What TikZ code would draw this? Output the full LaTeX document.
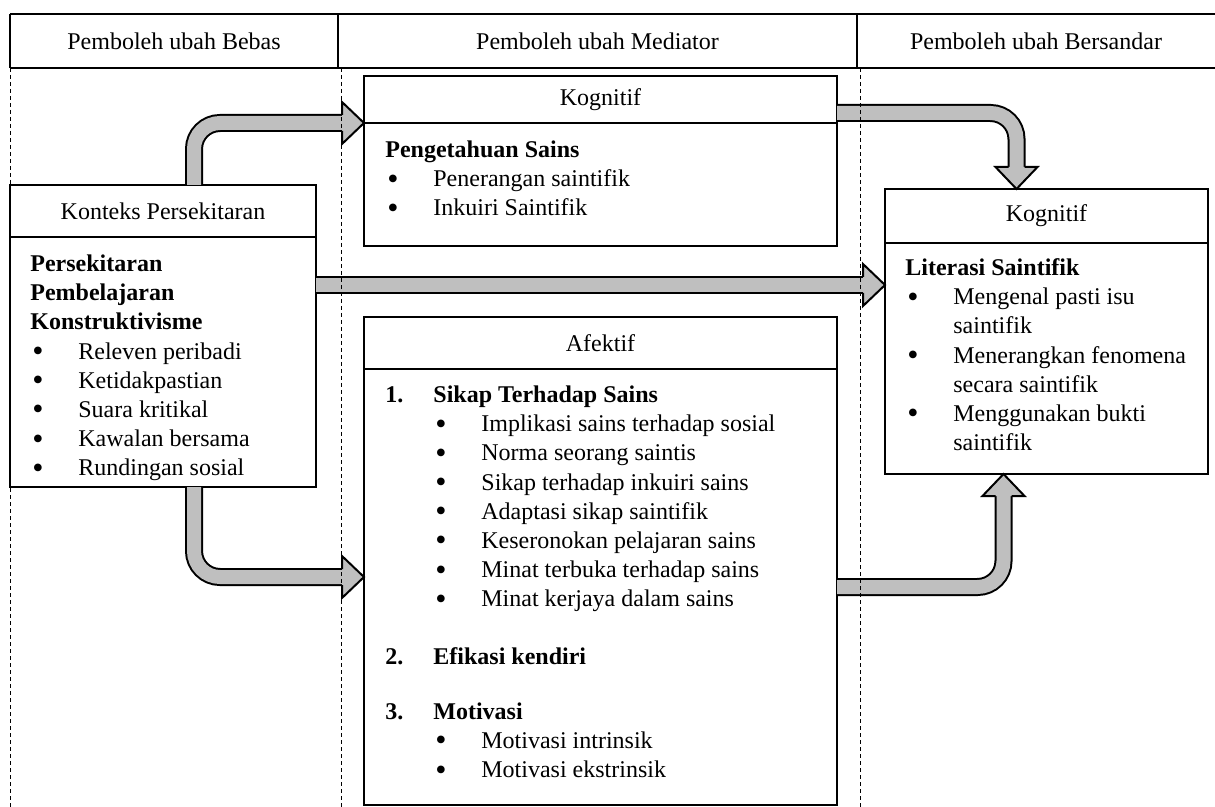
\documentclass[tikz,border=0pt]{standalone}
\usepackage{fontspec}
\setmainfont{Liberation Serif}
\usetikzlibrary{
	positioning,
	calc
}
\newcommand{\upx}{0.5pt}
\newcommand{\butir}{\makebox[24pt][l]{\hspace*{1pt}\raisebox{-1.2pt}{\fontsize{16}{16}\selectfont\textbullet}}}
\newcommand{\nomor}[1]{\makebox[24pt][l]{\textbf{#1}}}

\begin{document}
\begin{tikzpicture}[
	x=0.5pt, y=-0.5pt,
	font=\fontsize{12}{14.6}\selectfont,
	kolom/.style={
		inner sep=0pt,
		outer sep=0pt,
		minimum height=54*\upx
	},
	judul/.style={draw, line width=0.8pt, inner sep=0pt, outer sep=0pt, minimum height=52*\upx},
	badan/.style={draw, line width=0.8pt, inner sep=0pt, outer sep=0pt},
	isi/.style={anchor=north west, align=left, inner sep=0pt},
	bingkai/.style={line width=1.1pt},
	putus/.style={dash pattern=on 2pt off 1.5pt, line width=0.5pt},
	batang/.style={line width=1pt, draw=black, double=black!25, double distance=7pt, rounded corners=13pt},
	kepalapanah/.style={fill=black!25, draw=black, line width=1pt},
	kepala/.pic={\filldraw[kepalapanah] (-22,-8) -- (-22,-21) -- (0,0) -- (-22,21) -- (-22,8);}
]
\useasboundingbox (0,0) rectangle (1215,807);

% Kepala lajur
\node[kolom, minimum width=328*\upx] (hbebas) at (174,41) {Pemboleh ubah Bebas};
\node[kolom, minimum width=519*\upx, right=0pt of hbebas] (hmediator) {Pemboleh ubah Mediator};
\node[kolom, minimum width=358*\upx, right=0pt of hmediator] (hbersandar) {Pemboleh ubah Bersandar};

\draw[bingkai] (hbebas.north west) -- (hbersandar.north east);
\draw[bingkai] (hbebas.south west) -- (hbersandar.south east);
\draw[line width=0.8pt] (hbebas.north west) -- (hbebas.south west)
	(hbebas.north east) -- (hbebas.south east)
	(hmediator.north east) -- (hmediator.south east);

% Pemboleh ubah bebas
\node[judul, minimum width=306*\upx] (konteks) at (163,211) {Konteks Persekitaran};
\node[badan, minimum width=306*\upx, minimum height=250*\upx, below=0pt of konteks] (konteksbody) {};
\node[isi] (konteksisi) at ($(konteksbody.north west)+(20,13.6)$) {\strut\textbf{Persekitaran}\\\textbf{Pembelajaran}\\\textbf{Konstruktivisme}\\\butir Releven peribadi\\\butir Ketidakpastian\\\butir Suara kritikal\\\butir Kawalan bersama\\\butir Rundingan sosial};

% Pemboleh ubah mediator
\node[judul, minimum width=473*\upx, minimum height=47*\upx] (kogmed) at (600.5,99.5) {Kognitif};
\node[badan, minimum width=473*\upx, minimum height=123*\upx, below=0pt of kogmed] (kogmedbody) {};
\node[isi] (kogmedisi) at ($(kogmedbody.north west)+(21,13.6)$) {\strut\textbf{Pengetahuan Sains}\\\butir Penerangan saintifik\\\butir Inkuiri Saintifik};

\node[judul, minimum width=473*\upx] (afektif) at (600.5,343) {Afektif};
\node[badan, minimum width=473*\upx, minimum height=436*\upx, below=0pt of afektif] (afektifbody) {};
\node[isi] (afektifisi) at ($(afektifbody.north west)+(21,12.6)$) {\strut\nomor{1.}\textbf{Sikap Terhadap Sains}\\
	\hspace*{24pt}\butir Implikasi sains terhadap sosial\\
	\hspace*{24pt}\butir Norma seorang saintis\\
	\hspace*{24pt}\butir Sikap terhadap inkuiri sains\\
	\hspace*{24pt}\butir Adaptasi sikap saintifik\\
	\hspace*{24pt}\butir Keseronokan pelajaran sains\\
	\hspace*{24pt}\butir Minat terbuka terhadap sains\\
	\hspace*{24pt}\butir Minat kerjaya dalam sains\\[14pt]
	\nomor{2.}\textbf{Efikasi kendiri}\\[13pt]
	\nomor{3.}\textbf{Motivasi}\\
	\hspace*{24pt}\butir Motivasi intrinsik\\
	\hspace*{24pt}\butir Motivasi ekstrinsik};

% Pemboleh ubah bersandar
\node[judul, minimum width=323*\upx, minimum height=54*\upx] (kogkanan) at (1046.5,216) {Kognitif};
\node[badan, minimum width=323*\upx, minimum height=231*\upx, below=0pt of kogkanan] (kogkananbody) {};
\node[isi] (kogkananisi) at ($(kogkananbody.north west)+(20,11.6)$) {\strut\textbf{Literasi Saintifik}\\\butir Mengenal pasti isu\\\hspace*{24pt}saintifik\\\butir Menerangkan fenomena\\\hspace*{24pt}secara saintifik\\\butir Menggunakan bukti\\\hspace*{24pt}saintifik};

% Anak panah
\draw[batang] ($(konteks.north)+(31,0)$) |- ($(kogmed.south west)+(-22,0)$);
\pic at (kogmed.south west) {kepala};

\draw[batang] ($(konteksbody.south)+(31,0)$) |- ($(afektifbody.west)+(-22,-10)$);
\pic at ($(afektifbody.west)+(0,-10)$) {kepala};

\coordinate (tengah) at ($(konteksbody.north east)+(0,48)$);
\draw[batang] (tengah) -- ($(tengah -| kogkananbody.west)+(-22,0)$);
\pic at (tengah -| kogkananbody.west) {kepala};

\draw[batang] ($(kogmed.north east)+(0,37)$) -| ($(kogkanan.north)+(-30,-22)$);
\pic[rotate=-90] at ($(kogkanan.north)+(-30,0)$) {kepala};

\draw[batang] (afektifbody.east) -| ($(kogkananbody.south)+(-43,22)$);
\pic[rotate=90] at ($(kogkananbody.south)+(-43,0)$) {kepala};

% Garis putus lajur
\draw[putus] (hbebas.south west) -- ++(0,739);
\draw[putus] ($(hbebas.south east)+(3,0)$) -- ++(0,739);
\draw[putus] ($(hmediator.south east)+(3,0)$) -- ++(0,739);
\end{tikzpicture}
\end{document}
